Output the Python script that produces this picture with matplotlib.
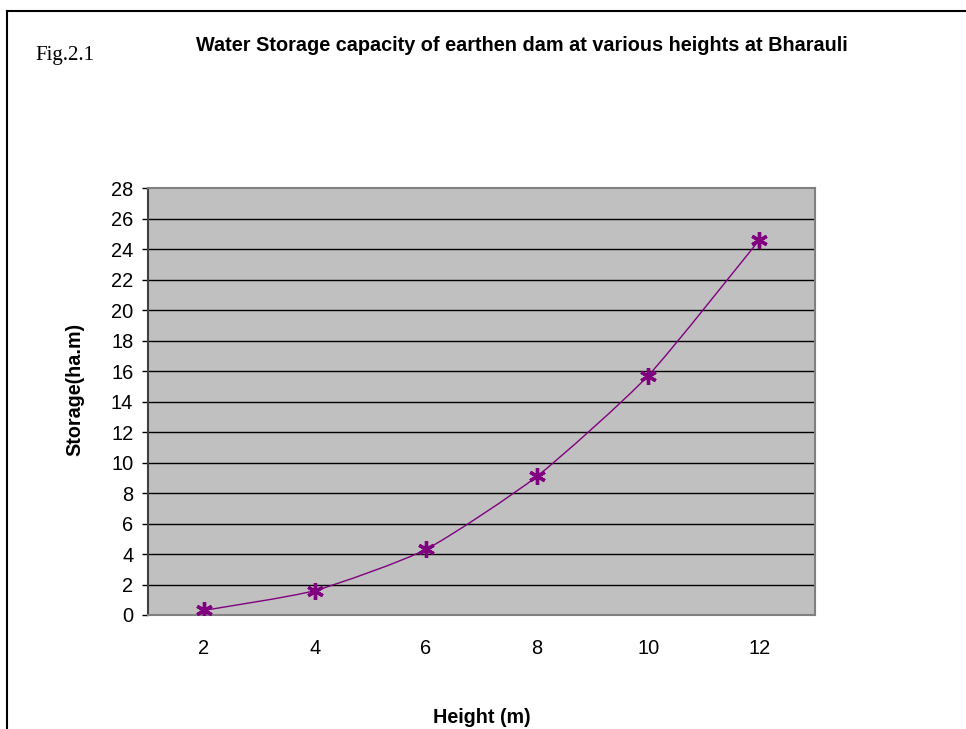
import matplotlib
matplotlib.use("Agg")
import matplotlib.pyplot as plt
from matplotlib.path import Path
from matplotlib.patches import PathPatch
from matplotlib.lines import Line2D

heights = ["2", "4", "6", "8", "10", "12"]
storage = [0.3, 1.6, 4.3, 9.1, 15.7, 24.6]
y_ticks = list(range(0, 29, 2))

W, H = 966, 729
fig = plt.figure(figsize=(W / 100, H / 100), dpi=100)
fig.patch.set_facecolor("white")

# axes position in pixels
left, right, top, bottom = 148, 815, 188, 615
ax = fig.add_axes([left / W, 1 - bottom / H, (right - left) / W, (bottom - top) / H])
ax.set_facecolor("#C0C0C0")

xs = list(range(len(heights)))
ax.set_xlim(-0.5, len(heights) - 0.5)
ax.set_ylim(0, 28)

for yv in y_ticks[1:-1]:
    ax.axhline(yv, color="black", lw=1.0, zorder=1)

# lightly smoothed line through the points
pts = list(zip(xs, storage))
verts = [pts[0]]
codes = [Path.MOVETO]
n = len(pts)
t = 1 / 10
for i in range(n - 1):
    p0 = pts[i - 1] if i > 0 else pts[i]
    p1 = pts[i]
    p2 = pts[i + 1]
    p3 = pts[i + 2] if i + 2 < n else pts[i + 1]
    c1 = (p1[0] + (p2[0] - p0[0]) * t, p1[1] + (p2[1] - p0[1]) * t)
    c2 = (p2[0] - (p3[0] - p1[0]) * t, p2[1] - (p3[1] - p1[1]) * t)
    verts += [c1, c2, p2]
    codes += [Path.CURVE4] * 3
ax.add_patch(PathPatch(Path(verts, codes), facecolor="none", edgecolor="#800080", lw=1.0, zorder=3))
ax.plot(xs, storage, linestyle="none", marker=(6, 2, 0), markersize=12,
        markeredgewidth=2.4, color="#800080", zorder=4)

ax.set_xticks(xs)
ax.set_xticklabels(heights)
ax.set_yticks(y_ticks)
ax.tick_params(axis="x", length=0, pad=17, labelsize=14.4, labelfontfamily="Liberation Sans")
ax.tick_params(axis="y", length=4.3, width=1, direction="out", pad=6.3, labelsize=14.4,
               labelfontfamily="Liberation Sans", color="black")
for sp in ["top", "right", "bottom"]:
    ax.spines[sp].set_color("#808080")
    ax.spines[sp].set_linewidth(1.5)
ax.spines["left"].set_color("#404040")
ax.spines["left"].set_linewidth(1.5)

fig.text(75 / W, 1 - 389 / H, "Storage(ha.m)", rotation=90, ha="center", va="center",
         fontsize=14.2, fontweight="bold", family="Liberation Sans")
fig.text(482 / W, 1 - 723 / H, "Height (m)", ha="center", va="baseline",
         fontsize=14.2, fontweight="bold", family="Liberation Sans")
fig.text(522 / W, 1 - 51 / H, "Water Storage capacity of earthen dam at various heights at Bharauli",
         ha="center", va="baseline", fontsize=14.3, fontweight="bold", family="Liberation Sans")
fig.text(35 / W, 1 - 60 / H, "Fig.2.1", ha="left", va="baseline", fontsize=15,
         family="Liberation Serif")

# outer frame (left and top edges visible)
fig.add_artist(Line2D([7 / W, 7 / W], [0, 1 - 11 / H], transform=fig.transFigure, color="black", lw=1.5))
fig.add_artist(Line2D([7 / W, 1], [1 - 11 / H, 1 - 11 / H], transform=fig.transFigure, color="black", lw=1.5))

fig.savefig("out.png", dpi=100)
